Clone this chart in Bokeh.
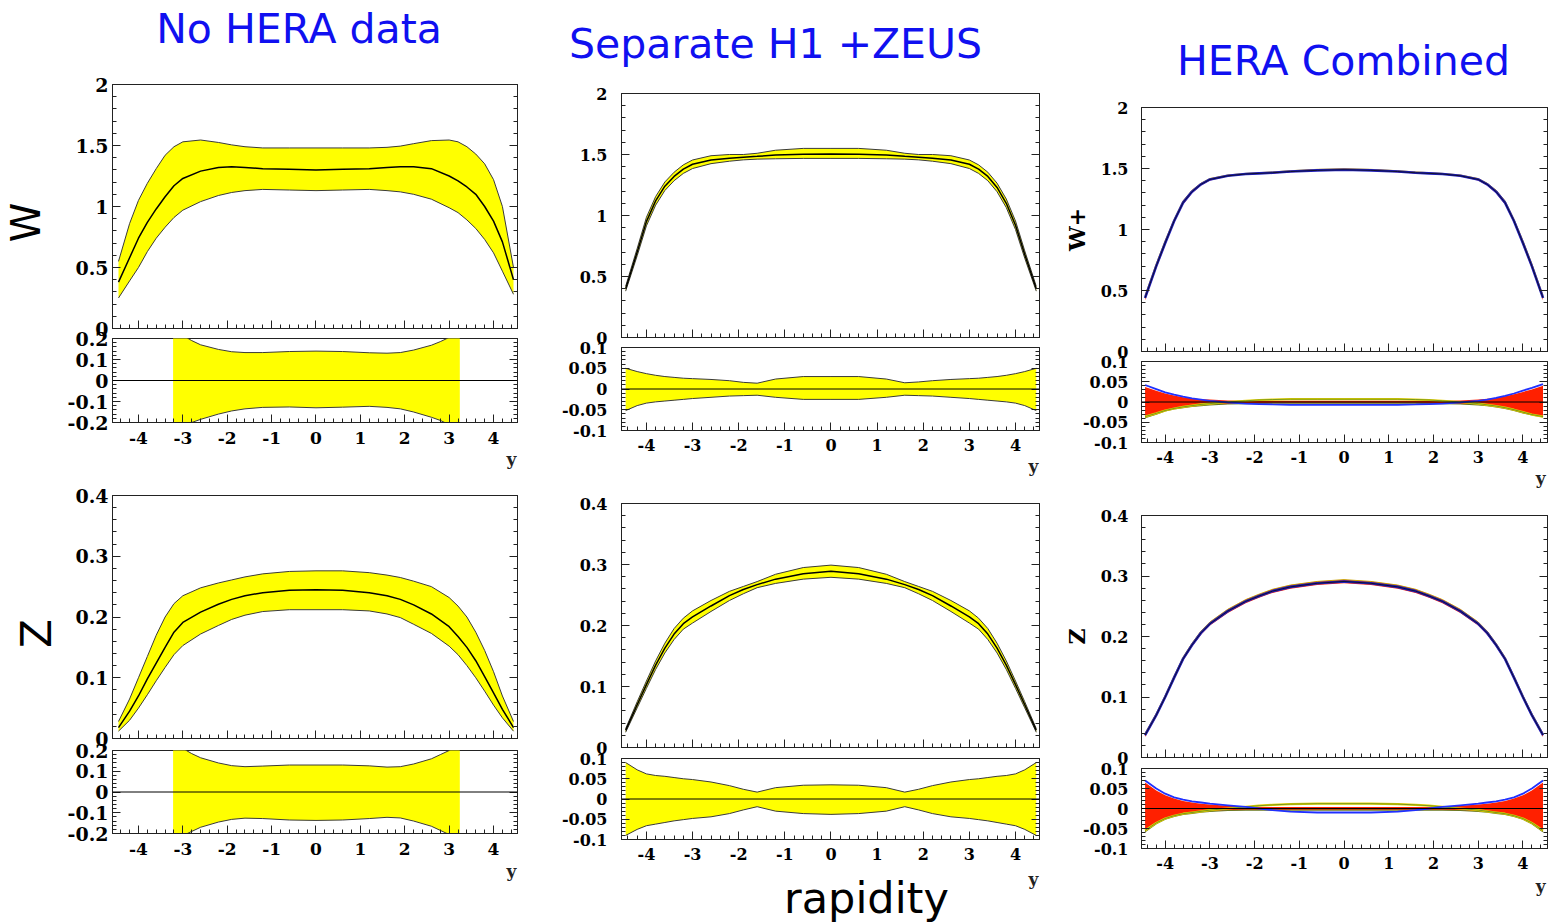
import numpy as np
from bokeh.plotting import figure
from bokeh.layouts import row, column
from bokeh.models import Range1d, FixedTicker, LinearAxis, Span, PrintfTickFormatter
from bokeh.core.properties import value
from bokeh.embed import file_html
from bokeh.resources import INLINE

# ---------------- data ----------------
titles = ["No HERA data", "Separate H1 +ZEUS", "HERA Combined"]
row_labels = ["W", "Z"]
combined_labels = ["W+", "Z"]
x_label = "rapidity"
x_var = "y"

rap = [-4.45, -4.2, -4.0, -3.8, -3.6, -3.4, -3.2, -3.0, -2.6, -2.2, -1.9, -1.6, -1.2, -0.6, 0.0,
       0.6, 1.2, 1.6, 1.9, 2.2, 2.6, 3.0, 3.2, 3.4, 3.6, 3.8, 4.0, 4.2, 4.45]
rap_r1 = [-3.22, -3.0, -2.8, -2.6, -2.2, -1.9, -1.6, -1.2, -0.6, 0.0, 0.6, 1.2, 1.6, 1.9, 2.2, 2.6, 2.8, 3.0, 3.24]

# No HERA data : W
noh_w_c = [0.38, 0.58, 0.74, 0.87, 0.98, 1.08, 1.17, 1.23, 1.29, 1.32, 1.325, 1.32, 1.31, 1.305, 1.30,
           1.305, 1.31, 1.32, 1.325, 1.325, 1.31, 1.25, 1.21, 1.16, 1.10, 1.00, 0.88, 0.71, 0.40]
noh_w_hi = [0.55, 0.86, 1.05, 1.19, 1.31, 1.42, 1.49, 1.53, 1.545, 1.525, 1.505, 1.49, 1.48, 1.48, 1.48,
            1.48, 1.48, 1.485, 1.495, 1.515, 1.54, 1.545, 1.53, 1.49, 1.43, 1.35, 1.22, 1.00, 0.50]
noh_w_lo = [0.25, 0.39, 0.50, 0.63, 0.74, 0.83, 0.91, 0.97, 1.04, 1.09, 1.115, 1.13, 1.14, 1.135, 1.13,
            1.135, 1.14, 1.13, 1.12, 1.10, 1.06, 0.99, 0.95, 0.89, 0.82, 0.73, 0.62, 0.47, 0.28]
noh_w_rhi = [0.25, 0.215, 0.19, 0.17, 0.148, 0.137, 0.133, 0.133, 0.138, 0.14, 0.138, 0.132, 0.13, 0.133,
             0.145, 0.168, 0.185, 0.205, 0.24]
noh_w_rlo = [-0.25, -0.22, -0.2, -0.185, -0.16, -0.145, -0.135, -0.128, -0.126, -0.13, -0.127, -0.123,
             -0.128, -0.135, -0.15, -0.175, -0.19, -0.21, -0.245]

# No HERA data : Z
noh_z_c = [0.018, 0.045, 0.07, 0.098, 0.124, 0.15, 0.175, 0.191, 0.208, 0.221, 0.229, 0.235, 0.240, 0.244, 0.245,
           0.244, 0.240, 0.235, 0.229, 0.220, 0.205, 0.184, 0.168, 0.150, 0.128, 0.102, 0.075, 0.048, 0.018]
noh_z_hi = [0.028, 0.065, 0.10, 0.135, 0.17, 0.20, 0.222, 0.235, 0.248, 0.256, 0.261, 0.266, 0.271, 0.275, 0.276,
            0.276, 0.273, 0.269, 0.265, 0.259, 0.25, 0.232, 0.218, 0.20, 0.175, 0.145, 0.11, 0.07, 0.028]
noh_z_lo = [0.012, 0.03, 0.05, 0.072, 0.095, 0.117, 0.138, 0.153, 0.172, 0.186, 0.196, 0.203, 0.209, 0.212, 0.212,
            0.212, 0.210, 0.205, 0.199, 0.188, 0.173, 0.152, 0.138, 0.12, 0.10, 0.078, 0.055, 0.034, 0.012]
noh_z_rhi = [0.24, 0.21, 0.185, 0.165, 0.14, 0.127, 0.122, 0.125, 0.13, 0.13, 0.13, 0.126, 0.12, 0.122,
             0.135, 0.16, 0.18, 0.2, 0.235]
noh_z_rlo = [-0.24, -0.21, -0.19, -0.17, -0.145, -0.132, -0.126, -0.128, -0.135, -0.137, -0.135, -0.128,
             -0.122, -0.125, -0.14, -0.165, -0.185, -0.205, -0.24]

# Separate H1 + ZEUS : W
sep_w_c = [0.40, 0.70, 0.95, 1.12, 1.24, 1.32, 1.38, 1.42, 1.455, 1.47, 1.478, 1.485, 1.495, 1.503, 1.505,
           1.503, 1.495, 1.485, 1.478, 1.47, 1.455, 1.42, 1.38, 1.32, 1.23, 1.10, 0.92, 0.68, 0.40]
sep_w_hi = [0.42, 0.73, 0.985, 1.155, 1.275, 1.355, 1.415, 1.455, 1.49, 1.50, 1.50, 1.51, 1.535, 1.55, 1.55,
            1.55, 1.535, 1.51, 1.50, 1.50, 1.49, 1.455, 1.415, 1.355, 1.265, 1.135, 0.955, 0.71, 0.42]
sep_w_lo = [0.38, 0.67, 0.915, 1.085, 1.205, 1.285, 1.345, 1.385, 1.425, 1.445, 1.456, 1.462, 1.465, 1.468, 1.468,
            1.468, 1.465, 1.462, 1.456, 1.445, 1.425, 1.385, 1.345, 1.285, 1.195, 1.065, 0.885, 0.65, 0.38]
sep_w_rhi = [0.05, 0.042, 0.037, 0.033, 0.03, 0.028, 0.026, 0.025, 0.023, 0.02, 0.016, 0.014, 0.024, 0.03, 0.03,
             0.03, 0.024, 0.015, 0.017, 0.02, 0.023, 0.025, 0.026, 0.028, 0.03, 0.033, 0.037, 0.042, 0.05]
sep_w_rlo = [-0.052, -0.04, -0.034, -0.031, -0.029, -0.027, -0.025, -0.023, -0.02, -0.017, -0.016, -0.015, -0.02,
             -0.025, -0.025, -0.025, -0.02, -0.015, -0.016, -0.017, -0.02, -0.023, -0.025, -0.027, -0.029,
             -0.031, -0.034, -0.04, -0.052]

# Separate H1 + ZEUS : Z
sep_z_c = [0.028, 0.07, 0.103, 0.135, 0.163, 0.186, 0.203, 0.214, 0.232, 0.249, 0.259, 0.267, 0.276, 0.285, 0.289,
           0.285, 0.276, 0.267, 0.259, 0.249, 0.232, 0.214, 0.203, 0.186, 0.163, 0.135, 0.103, 0.07, 0.028]
sep_z_hi = [0.031, 0.075, 0.109, 0.142, 0.171, 0.195, 0.212, 0.224, 0.241, 0.256, 0.264, 0.272, 0.284, 0.295, 0.299,
            0.295, 0.284, 0.272, 0.264, 0.256, 0.241, 0.224, 0.212, 0.195, 0.171, 0.142, 0.109, 0.075, 0.031]
sep_z_lo = [0.025, 0.065, 0.097, 0.128, 0.155, 0.177, 0.194, 0.204, 0.223, 0.241, 0.252, 0.262, 0.269, 0.276, 0.279,
            0.276, 0.269, 0.262, 0.252, 0.241, 0.223, 0.204, 0.194, 0.177, 0.155, 0.128, 0.097, 0.065, 0.025]
sep_z_rhi = [0.09, 0.072, 0.062, 0.058, 0.056, 0.053, 0.05, 0.048, 0.042, 0.033, 0.024, 0.017, 0.028, 0.034, 0.035,
             0.034, 0.028, 0.017, 0.024, 0.033, 0.042, 0.048, 0.05, 0.053, 0.056, 0.058, 0.062, 0.072, 0.09]
sep_z_rlo = [-0.09, -0.075, -0.066, -0.062, -0.058, -0.054, -0.051, -0.048, -0.044, -0.036, -0.027, -0.019, -0.03,
             -0.036, -0.038, -0.036, -0.03, -0.019, -0.027, -0.036, -0.044, -0.048, -0.051, -0.054, -0.058,
             -0.062, -0.066, -0.075, -0.09]

# HERA Combined : W
com_w_c = [0.44, 0.70, 0.89, 1.07, 1.22, 1.31, 1.37, 1.41, 1.44, 1.455, 1.46, 1.465, 1.475, 1.485, 1.49,
           1.485, 1.475, 1.465, 1.46, 1.455, 1.44, 1.41, 1.37, 1.31, 1.22, 1.07, 0.89, 0.70, 0.44]
com_w_hi = [0.46, 0.72, 0.91, 1.085, 1.235, 1.322, 1.38, 1.418, 1.447, 1.46, 1.466, 1.472, 1.482, 1.493, 1.498,
            1.493, 1.482, 1.472, 1.466, 1.46, 1.447, 1.418, 1.38, 1.322, 1.235, 1.085, 0.91, 0.72, 0.46]
com_w_lo = [0.42, 0.68, 0.87, 1.055, 1.205, 1.298, 1.36, 1.402, 1.434, 1.45, 1.455, 1.46, 1.47, 1.479, 1.484,
            1.479, 1.47, 1.46, 1.455, 1.45, 1.434, 1.402, 1.36, 1.298, 1.205, 1.055, 0.87, 0.68, 0.42]
com_w_rhi = [0.037, 0.028, 0.021, 0.016, 0.012, 0.009, 0.007, 0.006, 0.004, 0.003, 0.003, 0.003, 0.003, 0.003, 0.003,
             0.003, 0.003, 0.003, 0.003, 0.003, 0.004, 0.006, 0.008, 0.01, 0.014, 0.019, 0.025, 0.031, 0.04]
com_w_rlo = [-0.039, -0.03, -0.022, -0.017, -0.014, -0.011, -0.009, -0.007, -0.005, -0.004, -0.004, -0.003, -0.003,
             -0.003, -0.003, -0.003, -0.003, -0.003, -0.004, -0.004, -0.005, -0.007, -0.009, -0.012, -0.016,
             -0.021, -0.027, -0.032, -0.037]
com_w_blue = [0.042, 0.032, 0.024, 0.018, 0.013, 0.009, 0.006, 0.003, -0.001, -0.004, -0.005, -0.006, -0.007,
              -0.007, -0.007, -0.007, -0.007, -0.006, -0.005, -0.004, -0.001, 0.003, 0.006, 0.01, 0.015, 0.021,
              0.028, 0.035, 0.044]
com_w_grn = [-0.036, -0.028, -0.021, -0.016, -0.012, -0.009, -0.006, -0.004, 0.0, 0.003, 0.005, 0.006, 0.007,
             0.007, 0.007, 0.007, 0.007, 0.006, 0.005, 0.003, 0.0, -0.004, -0.007, -0.01, -0.014, -0.019, -0.025,
             -0.031, -0.036]

# HERA Combined : Z
com_z_c = [0.037, 0.07, 0.10, 0.132, 0.163, 0.186, 0.206, 0.221, 0.242, 0.258, 0.267, 0.275, 0.282, 0.288, 0.291,
           0.288, 0.282, 0.275, 0.267, 0.258, 0.242, 0.221, 0.206, 0.186, 0.163, 0.132, 0.10, 0.07, 0.037]
com_z_hi = [0.040, 0.073, 0.103, 0.135, 0.166, 0.189, 0.209, 0.224, 0.245, 0.261, 0.270, 0.278, 0.285, 0.291, 0.294,
            0.291, 0.285, 0.278, 0.270, 0.261, 0.245, 0.224, 0.209, 0.189, 0.166, 0.135, 0.103, 0.073, 0.040]
com_z_lo = [0.034, 0.067, 0.097, 0.129, 0.160, 0.183, 0.203, 0.218, 0.239, 0.255, 0.264, 0.272, 0.279, 0.285, 0.288,
            0.285, 0.279, 0.272, 0.264, 0.255, 0.239, 0.218, 0.203, 0.183, 0.160, 0.129, 0.097, 0.067, 0.034]
com_z_rhi = [0.065, 0.045, 0.033, 0.025, 0.019, 0.015, 0.012, 0.01, 0.007, 0.005, 0.004, 0.004, 0.004, 0.004, 0.004,
             0.004, 0.004, 0.004, 0.004, 0.005, 0.007, 0.01, 0.012, 0.015, 0.019, 0.025, 0.033, 0.045, 0.065]
com_z_rlo = [-0.058, -0.038, -0.027, -0.02, -0.015, -0.012, -0.009, -0.007, -0.005, -0.004, -0.004, -0.004, -0.004,
             -0.004, -0.004, -0.004, -0.004, -0.004, -0.004, -0.004, -0.005, -0.007, -0.009, -0.012, -0.015,
             -0.02, -0.027, -0.038, -0.058]
com_z_blue = [0.07, 0.05, 0.037, 0.028, 0.022, 0.018, 0.015, 0.012, 0.008, 0.004, 0.0, -0.004, -0.008, -0.01, -0.01,
              -0.01, -0.008, -0.004, 0.0, 0.004, 0.008, 0.012, 0.015, 0.018, 0.022, 0.028, 0.037, 0.05, 0.07]
com_z_grn = [-0.055, -0.036, -0.025, -0.018, -0.013, -0.01, -0.007, -0.004, 0.0, 0.004, 0.007, 0.009, 0.011, 0.012,
             0.012, 0.012, 0.011, 0.009, 0.007, 0.004, 0.0, -0.004, -0.007, -0.01, -0.013, -0.018, -0.025, -0.036,
             -0.055]

# tick values
x_ticks = [-4, -3, -2, -1, 0, 1, 2, 3, 4]
x_minor = [round(v, 2) for v in np.arange(-4.4, 4.41, 0.2)]
w_ticks = [0, 0.5, 1, 1.5, 2]
w_minor = [round(v, 2) for v in np.arange(0, 2.001, 0.1)]
z_ticks = [0, 0.1, 0.2, 0.3, 0.4]
z_minor = [round(v, 3) for v in np.arange(0, 0.401, 0.02)]
r1_ticks = [-0.2, -0.1, 0, 0.1, 0.2]
r1_minor = [round(v, 3) for v in np.arange(-0.2, 0.201, 0.02)]
r2_ticks = [-0.1, -0.05, 0, 0.05, 0.1]
r2_minor = [round(v, 3) for v in np.arange(-0.1, 0.101, 0.01)]

YELLOW = "#ffff00"
EDGE = "#3a3a3a"
FRAME = "#222222"
SERIF = "DejaVu Serif"
SANS = "DejaVu Sans"
BLUE_TXT = "#1010f0"
OVERLAP = 18


def style_axis(ax, fs, stand, show):
    ax.major_tick_in = 8
    ax.major_tick_out = 0
    ax.minor_tick_in = 4
    ax.minor_tick_out = 0
    ax.axis_line_color = FRAME
    ax.major_tick_line_color = FRAME
    ax.minor_tick_line_color = FRAME
    ax.major_label_text_font = SERIF
    ax.major_label_text_font_style = "bold"
    if show:
        ax.major_label_text_color = "black"
        ax.major_label_text_font_size = f"{fs}px"
        ax.major_label_standoff = stand
    else:
        ax.major_label_text_color = None
        ax.major_label_text_font_size = "1px"
        ax.major_label_standoff = 0


def panel(w, h, xr, yr, bl, br, bt, bb, yt, ym, yfs, ystand, xlab, xfs, xstand, overlap=False):
    p = figure(width=w, height=h, x_range=Range1d(*xr), y_range=Range1d(*yr),
               output_backend="svg", toolbar_location=None,
               x_axis_location=None, y_axis_location=None,
               min_border_left=bl, min_border_right=br, min_border_top=bt, min_border_bottom=bb)
    p.outline_line_color = FRAME
    p.outline_line_width = 1
    p.grid.grid_line_color = None
    p.border_fill_color = None
    p.background_fill_color = "white"
    if overlap:
        p.margin = (-OVERLAP, 0, 0, 0)
    la = LinearAxis(ticker=FixedTicker(ticks=yt, minor_ticks=ym), formatter=PrintfTickFormatter(format="%g"))
    style_axis(la, yfs, ystand, True)
    p.add_layout(la, "left")
    ra = LinearAxis(ticker=FixedTicker(ticks=yt, minor_ticks=ym), formatter=PrintfTickFormatter(format="%g"))
    style_axis(ra, 0, 0, False)
    p.add_layout(ra, "right")
    ba = LinearAxis(ticker=FixedTicker(ticks=x_ticks, minor_ticks=x_minor), formatter=PrintfTickFormatter(format="%g"))
    style_axis(ba, xfs, xstand, xlab)
    p.add_layout(ba, "below")
    return p, la


def strip(w, h, bl, br, x0, y0):
    """A text-only strip whose frame is addressed in page pixel coordinates."""
    p = figure(width=w, height=h, x_range=Range1d(x0 + bl, x0 + w - br), y_range=Range1d(y0 + h, y0),
               output_backend="svg", toolbar_location=None,
               x_axis_location=None, y_axis_location=None,
               min_border_left=bl, min_border_right=br, min_border_top=0, min_border_bottom=0)
    p.outline_line_color = None
    p.grid.grid_line_color = None
    p.background_fill_color = None
    p.border_fill_color = None
    return p


def put_text(p, x, y, t, font, size, color="black", align="center", angle=0.0, style="normal"):
    p.text(x=[x], y=[y], text=[t], angle=angle, text_font=value(font), text_font_size=value(size),
           text_color=color, text_align=align, text_baseline="middle", text_font_style=style)


def yellow_band(p, x, lo, hi, c=None):
    p.varea(x=x, y1=lo, y2=hi, fill_color=YELLOW)
    p.line(x, hi, line_color=EDGE, line_width=1)
    p.line(x, lo, line_color=EDGE, line_width=1)
    if c is not None:
        p.line(x, c, line_color="black", line_width=1.5)


def zero_line(p):
    p.add_layout(Span(location=0, dimension="width", line_color="black", line_width=1))


def y_mark(p, x, y):
    put_text(p, x, y, x_var, SERIF, "17px", "#222222", "right", style="bold")


# ---------------- column 1 : No HERA data ----------------
xr1 = (-4.585, 4.54)
L1W = 64
W1 = 476
BL1, BR1 = 47, 23
left1 = figure(width=L1W, height=924, x_range=Range1d(0, L1W), y_range=Range1d(924, 0),
               output_backend="svg", toolbar_location=None, x_axis_location=None, y_axis_location=None,
               min_border_left=0, min_border_right=0, min_border_top=0, min_border_bottom=0)
left1.outline_line_color = None
left1.grid.grid_line_color = None
left1.background_fill_color = None
left1.border_fill_color = None
put_text(left1, 25, 222, row_labels[0], SANS, "40px", angle=np.pi / 2)
put_text(left1, 36, 633, row_labels[1], SANS, "42px", angle=np.pi / 2)

t1 = strip(W1, 55, BL1, BR1, L1W, 0)
put_text(t1, 298, 28, titles[0], SANS, "41px", BLUE_TXT)

a1, _ = panel(W1, 287, xr1, (0, 2), BL1, BR1, 29, 14, w_ticks, w_minor, 19, 4, False, 17, 9)
yellow_band(a1, rap, noh_w_lo, noh_w_hi, noh_w_c)

b1, _ = panel(W1, 124, xr1, (-0.2, 0.2), BL1, BR1, 14, 26, r1_ticks, r1_minor, 19, 4, True, 17, 9, overlap=True)
yellow_band(b1, rap_r1, noh_w_rlo, noh_w_rhi)
zero_line(b1)

y1a = strip(W1, 32, BL1, BR1, L1W, 448)
y_mark(y1a, 516, 458)

c1, _ = panel(W1, 272, xr1, (0, 0.4), BL1, BR1, 15, 14, z_ticks, z_minor, 19, 4, False, 17, 9)
yellow_band(c1, rap, noh_z_lo, noh_z_hi, noh_z_c)

d1, _ = panel(W1, 125, xr1, (-0.2, 0.2), BL1, BR1, 16, 26, r1_ticks, r1_minor, 19, 4, True, 17, 9, overlap=True)
yellow_band(d1, rap_r1, noh_z_rlo, noh_z_rhi)
zero_line(d1)

y1b = strip(W1, 65, BL1, BR1, L1W, 859)
y_mark(y1b, 516, 870)

col1 = row(left1, column(t1, a1, b1, y1a, c1, d1, y1b))

# ---------------- column 2 : Separate H1 + ZEUS ----------------
xr2 = (-4.54, 4.52)
W2 = 520
X2 = 540
BL2, BR2 = 81, 21
# the title is wider than the panel frame: use a borderless strip, wrapped in a row so its frame is not aligned
t2 = strip(W2, 72, 0, 0, X2, 0)
put_text(t2, 775, 43, titles[1], SANS, "41px", BLUE_TXT)

a2, _ = panel(W2, 279, xr2, (0, 2), BL2, BR2, 21, 14, w_ticks, w_minor, 16, 14, False, 16, 8)
yellow_band(a2, rap, sep_w_lo, sep_w_hi, sep_w_c)

b2, _ = panel(W2, 121, xr2, (-0.1, 0.1), BL2, BR2, 14, 24, r2_ticks, r2_minor, 16, 14, True, 16, 8, overlap=True)
yellow_band(b2, rap, sep_w_rlo, sep_w_rhi)
zero_line(b2)

y2a = strip(W2, 36, BL2, BR2, X2, 454)
y_mark(y2a, 1038, 465)

c2, _ = panel(W2, 271, xr2, (0, 0.4), BL2, BR2, 13, 14, z_ticks, z_minor, 16, 14, False, 16, 8)
yellow_band(c2, rap, sep_z_lo, sep_z_hi, sep_z_c)

d2, _ = panel(W2, 119, xr2, (-0.1, 0.1), BL2, BR2, 15, 20, r2_ticks, r2_minor, 16, 14, True, 16, 8, overlap=True)
yellow_band(d2, rap, sep_z_rlo, sep_z_rhi)
zero_line(d2)

y2b = strip(W2, 62, BL2, BR2, X2, 862)
y_mark(y2b, 1038, 878)
put_text(y2b, 866, 897, x_label, SANS, "43px")

col2 = column(row(t2), a2, b2, y2a, c2, d2, y2b)

# ---------------- column 3 : HERA Combined ----------------
xr3 = (-4.53, 4.55)
W3 = 498
X3 = 1060
BL3, BR3 = 75, 11


def combined_main(p, lo, hi, c):
    p.varea(x=rap, y1=lo, y2=hi, fill_color="#ff2000")
    p.line(rap, hi, line_color="#c8a000", line_width=1)
    p.line(rap, c, line_color="#2020c0", line_width=2.6)
    p.line(rap, c, line_color="#101030", line_width=1)


def combined_ratio(p, lo, hi, blue, grn):
    p.varea(x=rap, y1=lo, y2=hi, fill_color="#ff2000")
    p.line(rap, lo, line_color="#6a7a20", line_width=1.2)
    p.line(rap, grn, line_color="#e8d000", line_width=2.2)
    p.line(rap, grn, line_color="#5a8a20", line_width=0.8)
    p.line(rap, blue, line_color="#2030ff", line_width=1.8)
    zero_line(p)


def side_axis_label(ax, text):
    ax.axis_label = text
    ax.axis_label_text_font = SERIF
    ax.axis_label_text_font_style = "bold"
    ax.axis_label_text_font_size = "22px"
    ax.axis_label_text_color = "black"
    ax.axis_label_standoff = 8


t3 = strip(W3, 88, BL3, BR3, X3, 0)
put_text(t3, 1340, 60, titles[2], SANS, "41px", BLUE_TXT)

a3, la3 = panel(W3, 277, xr3, (0, 2), BL3, BR3, 19, 14, w_ticks, w_minor, 16, 13, False, 16, 8)
combined_main(a3, com_w_lo, com_w_hi, com_w_c)
side_axis_label(la3, combined_labels[0])

b3, _ = panel(W3, 119, xr3, (-0.1, 0.1), BL3, BR3, 14, 24, r2_ticks, r2_minor, 16, 13, True, 16, 8, overlap=True)
combined_ratio(b3, com_w_rlo, com_w_rhi, com_w_blue, com_w_grn)

y3a = strip(W3, 34, BL3, BR3, X3, 466)
y_mark(y3a, 1545, 477)

c3, lc3 = panel(W3, 271, xr3, (0, 0.4), BL3, BR3, 15, 14, z_ticks, z_minor, 16, 13, False, 16, 8)
combined_main(c3, com_z_lo, com_z_hi, com_z_c)
side_axis_label(lc3, combined_labels[1])

d3, _ = panel(W3, 118, xr3, (-0.1, 0.1), BL3, BR3, 15, 20, r2_ticks, r2_minor, 16, 13, True, 16, 8, overlap=True)
combined_ratio(d3, com_z_rlo, com_z_rhi, com_z_blue, com_z_grn)

y3b = strip(W3, 53, BL3, BR3, X3, 871)
y_mark(y3b, 1545, 885)

col3 = column(t3, a3, b3, y3a, c3, d3, y3b)

layout = row(col1, col2, col3)

open("out.html", "w").write(file_html(layout, INLINE))
